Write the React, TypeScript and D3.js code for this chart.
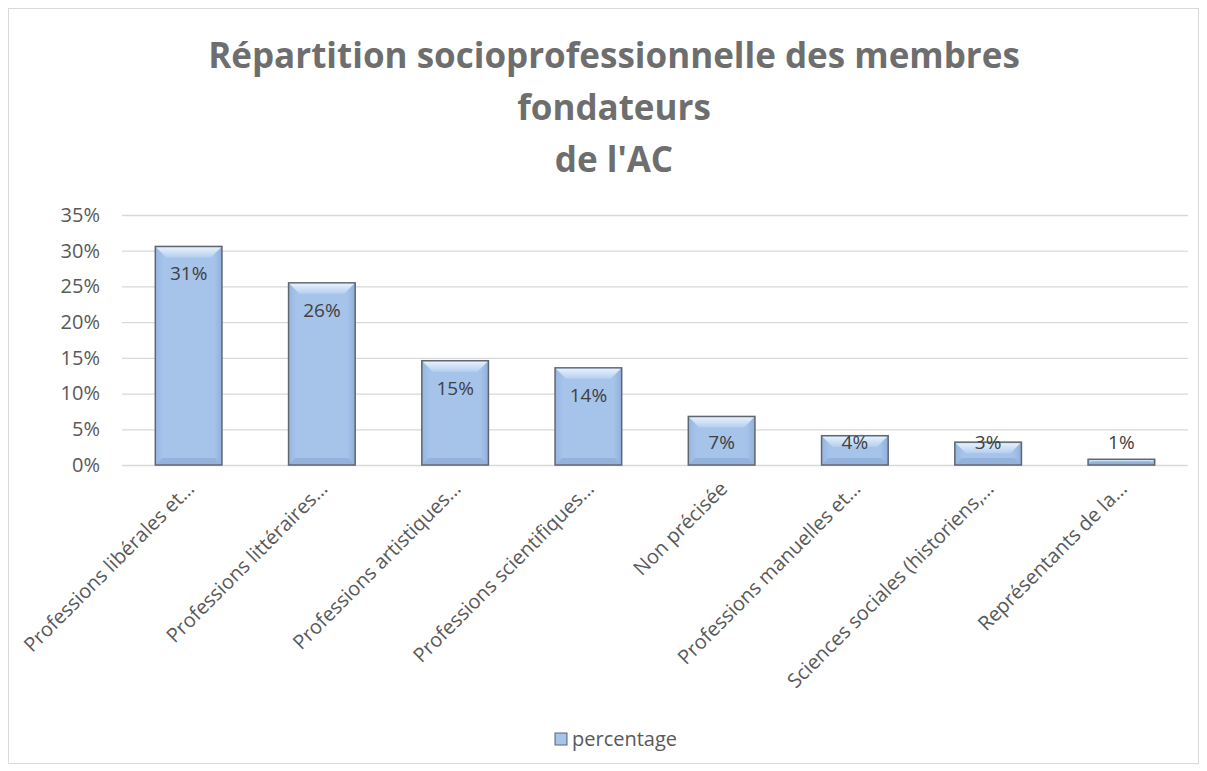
import React, { useRef, useEffect } from 'react';
import * as d3 from 'd3';

const categories = [
  'Professions libérales et…',
  'Professions littéraires…',
  'Professions artistiques…',
  'Professions scientifiques…',
  'Non précisée',
  'Professions manuelles et…',
  'Sciences sociales (historiens,…',
  'Représentants de la…',
];
const values = [0.306, 0.255, 0.146, 0.136, 0.068, 0.041, 0.032, 0.008];
const yTicks = [0, 0.05, 0.1, 0.15, 0.2, 0.25, 0.3, 0.35];
const titleLines = ['Répartition socioprofessionnelle des membres', 'fondateurs', "de l'AC"];
const seriesName = 'percentage';

const FONT = '"Open Sans", sans-serif';

const App = () => {
  const svgRef = useRef<SVGSVGElement>(null);

  useEffect(() => {
    const width = 1207;
    const height = 771;
    const svg = d3.select(svgRef.current).attr('width', width).attr('height', height);
    svg.selectAll('*').remove();

    // chart frame
    svg.append('rect')
      .attr('x', 8.5).attr('y', 8.5)
      .attr('width', 1190).attr('height', 755)
      .attr('fill', '#fff').attr('stroke', '#d9d9d9');

    const margin = { top: 215, right: 19, bottom: 306, left: 122 };
    const innerWidth = width - margin.left - margin.right;
    const innerHeight = height - margin.top - margin.bottom;

    const g = svg.append('g').attr('transform', `translate(${margin.left},${margin.top})`);

    const x = d3.scaleBand().domain(categories).range([0, innerWidth]).paddingInner(0.5).paddingOuter(0.25);
    const y = d3.scaleLinear().domain([0, 0.35]).range([innerHeight, 0]);

    // title
    svg.append('g').selectAll('text').data(titleLines).join('text')
      .attr('x', 614).attr('y', (_, i) => 68 + i * 52)
      .attr('text-anchor', 'middle')
      .attr('font-family', FONT).attr('font-weight', 700).attr('font-size', 35)
      .attr('fill', '#6e6e6e')
      .text(d => d);

    // grid
    g.append('g')
      .call(d3.axisLeft(y).tickValues(yTicks).tickSize(-innerWidth).tickFormat(() => ''))
      .call(s => s.select('.domain').remove())
      .call(s => s.selectAll('line').attr('stroke', '#d9d9d9').attr('stroke-width', 1.3));

    // y axis labels
    g.append('g')
      .call(d3.axisLeft(y).tickValues(yTicks).tickSize(0).tickPadding(22).tickFormat(d3.format('.0%')))
      .call(s => s.select('.domain').remove())
      .call(s => s.selectAll('text').attr('font-family', FONT).attr('font-size', 20).attr('fill', '#595959'));

    const defs = svg.append('defs');
    const grad = defs.append('linearGradient').attr('id', 'barGrad').attr('x1', '0%').attr('x2', '100%');
    grad.append('stop').attr('offset', '0%').attr('stop-color', '#96b7e2');
    grad.append('stop').attr('offset', '12%').attr('stop-color', '#a6c3ea');
    grad.append('stop').attr('offset', '88%').attr('stop-color', '#a6c3ea');
    grad.append('stop').attr('offset', '100%').attr('stop-color', '#8fb0dc');
    const vgrad = defs.append('linearGradient').attr('id', 'topGrad').attr('x1', '0%').attr('x2', '0%').attr('y1', '0%').attr('y2', '100%');
    vgrad.append('stop').attr('offset', '0%').attr('stop-color', '#e6f0fb');
    vgrad.append('stop').attr('offset', '100%').attr('stop-color', '#b5cff0');

    const bars = g.append('g').selectAll('g').data(values).join('g');
    bars.append('rect')
      .attr('x', (_, i) => x(categories[i])!)
      .attr('y', d => y(d))
      .attr('width', x.bandwidth())
      .attr('height', d => innerHeight - y(d))
      .attr('fill', 'url(#barGrad)')
      .attr('stroke', '#5f6670').attr('stroke-width', 1.5);
    // bevel highlight at top
    bars.append('path')
      .attr('d', (d, i) => {
        const x0 = x(categories[i])! + 1;
        const x1 = x0 + x.bandwidth() - 2;
        const y0 = y(d) + 1;
        const h = Math.min(10, (innerHeight - y(d)) / 2);
        return `M${x0},${y0}L${x1},${y0}L${x1 - h},${y0 + h}L${x0 + h},${y0 + h}Z`;
      })
      .attr('fill', 'url(#topGrad)');
    bars.append('path')
      .attr('d', (d, i) => {
        const x0 = x(categories[i])! + 1;
        const x1 = x0 + x.bandwidth() - 2;
        const yb = innerHeight - 1;
        const h = Math.min(6, (innerHeight - y(d)) / 2);
        return `M${x0},${yb}L${x1},${yb}L${x1 - h},${yb - h}L${x0 + h},${yb - h}Z`;
      })
      .attr('fill', '#94b3dc');

    // data labels (inside end)
    g.append('g').selectAll('text').data(values).join('text')
      .attr('x', (_, i) => x(categories[i])! + x.bandwidth() / 2)
      .attr('y', d => Math.min(y(d) + 34, innerHeight - 16))
      .attr('text-anchor', 'middle')
      .attr('font-family', FONT).attr('font-size', 19).attr('fill', '#404040')
      .text(d => d3.format('.0%')(d));

    // category labels
    g.append('g').selectAll('text').data(categories).join('text')
      .attr('transform', d => `translate(${x(d)! + x.bandwidth() / 2 + 2},${innerHeight + 20}) rotate(-45)`)
      .attr('text-anchor', 'end')
      .attr('dy', '0.35em')
      .attr('font-family', FONT).attr('font-size', 20).attr('fill', '#595959')
      .text(d => d);

    // legend
    const lg = svg.append('g').attr('transform', 'translate(555,733)');
    lg.append('rect').attr('width', 12).attr('height', 12).attr('fill', 'url(#barGrad)').attr('stroke', '#5f6670');
    lg.append('text').attr('x', 17).attr('y', 6).attr('dy', '0.35em')
      .attr('font-family', FONT).attr('font-size', 20).attr('fill', '#595959')
      .text(seriesName);
  }, []);

  return <svg ref={svgRef} style={{ display: 'block', position: 'absolute', left: 0, top: 0 }}></svg>;
};

export default App;
